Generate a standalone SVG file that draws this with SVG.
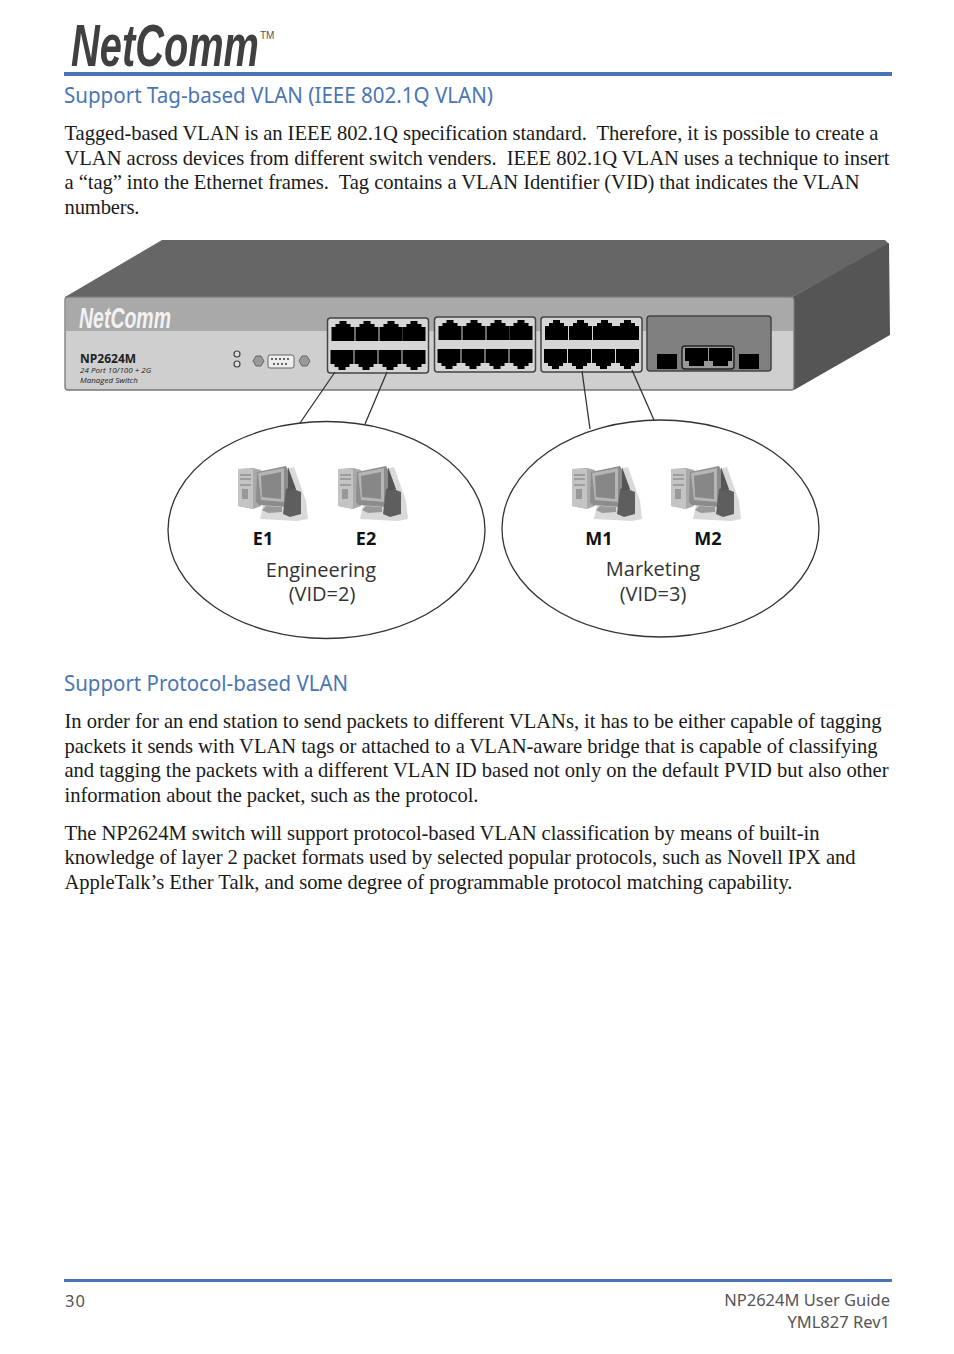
<svg xmlns="http://www.w3.org/2000/svg" xmlns:xlink="http://www.w3.org/1999/xlink" width="954" height="1354" viewBox="0 0 954 1354">
<style>
.h{font-family:"Noto Sans","Open Sans",sans-serif;font-size:22px;fill:#4a75b5}
.b{font-family:"Liberation Serif",serif;font-size:20.6px;fill:#1a1a1a}
.f{font-family:"Noto Sans","Open Sans",sans-serif;font-size:16.5px;fill:#555}
.l{font-family:"Open Sans","Noto Sans",sans-serif;fill:#222}
.tag{font-size:18px;font-weight:700;fill:#111;text-anchor:middle}
.grp{font-size:20px;fill:#333;text-anchor:middle}
.box{fill:#d6d6d6;stroke:#444;stroke-width:1.5}
.wire{fill:none;stroke:#333;stroke-width:1.3}
.zone{fill:#fff;stroke:#333;stroke-width:1.3}
</style>
<defs>
<path id="pu" d="M0 7h4v-3h4v-3h7v3h4v3h4v14h-23z" fill="#000"/>
<path id="pd" d="M0 0h23v14h-4v3h-4v3h-7v-3h-4v-3h-4z" fill="#000"/>
<g id="ports">
<rect class="box" x="0" y="0" width="101" height="55" rx="3"/>
<use xlink:href="#pu" x="4" y="2"/><use xlink:href="#pu" x="28" y="2"/><use xlink:href="#pu" x="52" y="2"/><use xlink:href="#pu" x="75" y="2"/>
<use xlink:href="#pd" x="3" y="32"/><use xlink:href="#pd" x="27" y="32"/><use xlink:href="#pd" x="51" y="32"/><use xlink:href="#pd" x="75" y="32"/>
</g>
<g id="pc">
<path d="M30 6l24-6 12 34 2 18-10 2 -38-2z" fill="#c9c9c9" opacity=".7" transform="translate(2,2)"/>
<path d="M0 4l15-1 8 2v36l-8 3-15-3z" fill="#a9a9a9"/>
<path d="M0 4h15v40l-15-3z" fill="#c4c4c4"/>
<path d="M2 10h11M2 14h11M2 20h11" stroke="#777" stroke-width="1"/>
<rect x="4" y="24" width="6" height="10" fill="#999"/>
<path d="M19 7l29-6 4 8v28l-4 5-27-2-3-3z" fill="#8c8c8c"/>
<path d="M20 8l26-5v34l-23-2z" fill="#b5b5b5"/>
<path d="M23 11l20-4v27l-19-2z" fill="#878787"/>
<path d="M28 41l16 1v5l-14 1-6-3z" fill="#999"/>
<path d="M48 24l8-3 2 4 5 2v22l-11 3-7-3z" fill="#5e5e5e"/>
<path d="M50 2l8 22-8 2z" fill="#555"/>
</g>
</defs>
<g id="header">
<text x="71" y="66" font-family="Liberation Sans,sans-serif" font-size="60" font-weight="700" font-style="italic" fill="#404040" textLength="188" lengthAdjust="spacingAndGlyphs">NetComm</text>
<text x="260" y="39" font-family="Liberation Sans,sans-serif" font-size="10" fill="#555">TM</text>
<rect x="64" y="72" width="828" height="4" fill="#4a75b5"/>
</g>
<g id="text">
<text class="h" x="64" y="103" textLength="429" lengthAdjust="spacingAndGlyphs">Support Tag-based VLAN (IEEE 802.1Q VLAN)</text>
<text class="b" x="64.500" y="140" textLength="814" xml:space="preserve">Tagged-based VLAN is an IEEE 802.1Q specification standard.  Therefore, it is possible to create a</text>
<text class="b" x="64.500" y="165" textLength="825" xml:space="preserve">VLAN across devices from different switch venders.  IEEE 802.1Q VLAN uses a technique to insert</text>
<text class="b" x="64.500" y="189" textLength="795" xml:space="preserve">a “tag” into the Ethernet frames.  Tag contains a VLAN Identifier (VID) that indicates the VLAN</text>
<text class="b" x="64.500" y="214" textLength="75">numbers.</text>
<text class="h" x="64" y="691" textLength="284" lengthAdjust="spacingAndGlyphs">Support Protocol-based VLAN</text>
<text class="b" x="64.500" y="728" textLength="817">In order for an end station to send packets to different VLANs, it has to be either capable of tagging</text>
<text class="b" x="64.500" y="753" textLength="813">packets it sends with VLAN tags or attached to a VLAN-aware bridge that is capable of classifying</text>
<text class="b" x="64.500" y="777" textLength="824">and tagging the packets with a different VLAN ID based not only on the default PVID but also other</text>
<text class="b" x="64.500" y="802" textLength="414">information about the packet, such as the protocol.</text>
<text class="b" x="64.500" y="840" textLength="755">The NP2624M switch will support protocol-based VLAN classification by means of built-in</text>
<text class="b" x="64.500" y="864" textLength="791">knowledge of layer 2 packet formats used by selected popular protocols, such as Novell IPX and</text>
<text class="b" x="64.500" y="889" textLength="728">AppleTalk’s Ether Talk, and some degree of programmable protocol matching capability.</text>
</g>
<g id="switch">
<path d="M65 297L162 240H885L889 244L792 297Z" fill="#666"/>
<path d="M792 297L889 243L890 335L794 390Z" fill="#555"/>
<rect x="65" y="297" width="729" height="93" rx="3" fill="#cfcfcf" stroke="#777" stroke-width="1.3"/>
<rect x="66" y="298" width="727" height="33" fill="#a9a9a9"/>
<text x="79" y="328" font-family="Liberation Sans,sans-serif" font-size="30" font-weight="700" font-style="italic" fill="#f2f2f2" textLength="92" lengthAdjust="spacingAndGlyphs">NetComm</text>
<text class="l" x="80" y="363" font-size="12" font-weight="700" fill="#111">NP2624M</text>
<text class="l" x="80" y="373" font-size="8" font-style="italic" fill="#444">24 Port 10/100 + 2G</text>
<text class="l" x="80" y="383" font-size="8" font-style="italic" fill="#444">Managed Switch</text>
<circle cx="237" cy="354" r="3" fill="#ddd" stroke="#444" stroke-width="1.2"/>
<circle cx="237" cy="364" r="3" fill="#ddd" stroke="#444" stroke-width="1.2"/>
<path d="M253 361l3-5h5l3 5-3 5h-5z" fill="#999" stroke="#666"/>
<path d="M299 361l3-5h5l3 5-3 5h-5z" fill="#999" stroke="#666"/>
<rect x="268" y="355" width="26" height="13" rx="2" fill="#eee" stroke="#666"/>
<path d="M271 359h20M273 364h16" stroke="#666" stroke-width="2" stroke-dasharray="2 2"/>
<use xlink:href="#ports" x="327.500" y="318"/>
<use xlink:href="#ports" x="434.500" y="317"/>
<use xlink:href="#ports" x="541" y="317"/>
<rect x="647" y="316" width="124" height="55" rx="3" fill="#808080" stroke="#444" stroke-width="1.5"/>
<rect x="657" y="354" width="20" height="15" fill="#000"/>
<rect x="739" y="354" width="20" height="15" fill="#000"/>
<rect x="682" y="346" width="52" height="23" rx="3" fill="#999" stroke="#222" stroke-width="1.5"/>
<path d="M685 348h23v13h-4v5h-15v-5h-4z" fill="#000"/>
<path d="M709 348h23v13h-4v5h-15v-5h-4z" fill="#000"/>
</g>
<g id="connectors">
<path class="wire" d="M335 372L300 423M387 372L365 424M582 371L590 429M632 370L654 420"/>
</g>
<g id="engineering">
<ellipse class="zone" cx="326.500" cy="530" rx="158.500" ry="108.500"/>
<use xlink:href="#pc" x="238" y="465"/>
<use xlink:href="#pc" x="338" y="465"/>
<text class="l tag" x="263" y="545">E1</text>
<text class="l tag" x="366" y="545">E2</text>
<text class="l grp" x="321" y="577">Engineering</text>
<text class="l grp" x="322" y="601">(VID=2)</text>
</g>
<g id="marketing">
<ellipse class="zone" cx="660.500" cy="528.500" rx="158.500" ry="108.500"/>
<use xlink:href="#pc" x="572" y="465"/>
<use xlink:href="#pc" x="671" y="465"/>
<text class="l tag" x="599" y="545">M1</text>
<text class="l tag" x="708" y="545">M2</text>
<text class="l grp" x="653" y="576">Marketing</text>
<text class="l grp" x="653" y="601">(VID=3)</text>
</g>
<g id="footer">
<rect x="64" y="1279" width="828" height="3" fill="#4a75b5"/>
<text class="f" x="65" y="1307" textLength="20">30</text>
<text class="f" x="890" y="1306" text-anchor="end">NP2624M User Guide</text>
<text class="f" x="890" y="1328" text-anchor="end">YML827 Rev1</text>
</g>
</svg>
